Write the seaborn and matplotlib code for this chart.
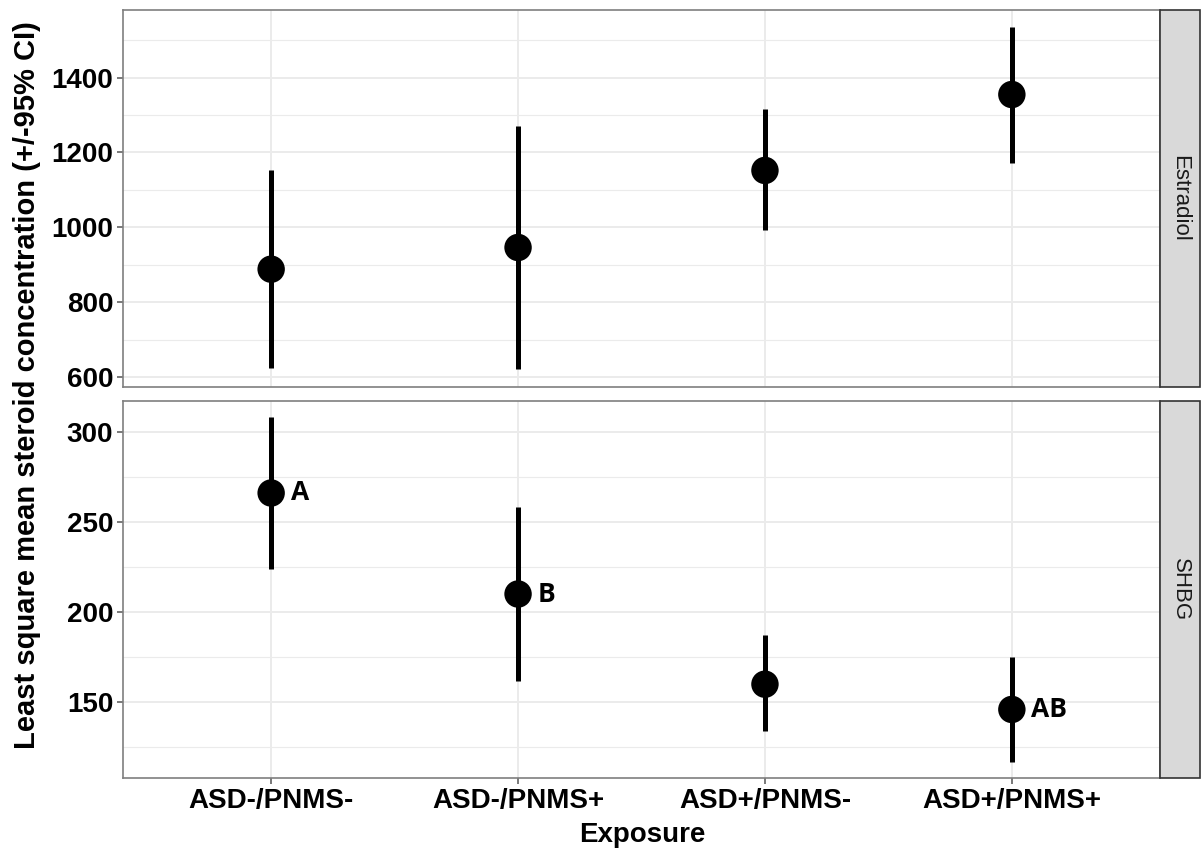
import numpy as np
import pandas as pd
import matplotlib
matplotlib.use("Agg")
import matplotlib.pyplot as plt
from matplotlib.patches import Rectangle
from matplotlib.ticker import MultipleLocator
import seaborn as sns

# ---- data ----
categories = ["ASD-/PNMS-", "ASD-/PNMS+", "ASD+/PNMS-", "ASD+/PNMS+"]
estradiol_mean = [888, 946, 1152, 1355]
estradiol_lo = [624, 621, 992, 1173]
estradiol_hi = [1152, 1272, 1315, 1536]
shbg_mean = [266, 210, 160, 146]
shbg_lo = [224, 162, 134, 117]
shbg_hi = [308, 258, 187, 175]
shbg_letters = ["A", "B", "", "AB"]
panels = ["Estradiol", "SHBG"]

rows = []
for p, m, lo, hi in [("Estradiol", estradiol_mean, estradiol_lo, estradiol_hi),
                     ("SHBG", shbg_mean, shbg_lo, shbg_hi)]:
    for i, c in enumerate(categories):
        rows.append(dict(panel=p, exposure=c, pos=i, mean=m[i], lo=lo[i], hi=hi[i]))
df = pd.DataFrame(rows)

sns.set_theme(style="white")
plt.rcParams['font.family'] = ['Liberation Sans', 'DejaVu Sans']
plt.rcParams['text.color'] = 'black'
plt.rcParams['axes.labelcolor'] = 'black'

fig = plt.figure(figsize=(12.04, 8.55), dpi=100)
W, H = 1204, 855
left, right = 123 / W, 1160 / W
ax1 = fig.add_axes([left, 1 - 387 / H, right - left, (387 - 10) / H])
ax2 = fig.add_axes([left, 1 - 778 / H, right - left, (778 - 401) / H])

settings = {
    "Estradiol": dict(ax=ax1, ylim=(573, 1581), major=200, minor=100),
    "SHBG": dict(ax=ax2, ylim=(108, 317), major=50, minor=25),
}

grid_col = "#EBEBEB"
for p in panels:
    s = settings[p]
    ax = s["ax"]
    sub = df[df.panel == p]
    ax.vlines(sub["pos"], sub["lo"], sub["hi"], color="black", lw=3.6, zorder=3)
    sns.scatterplot(data=sub, x="pos", y="mean", ax=ax, color="black", s=390,
                    edgecolor="none", zorder=4, legend=False)
    ax.set_xlim(-0.6, 3.6)
    ax.set_ylim(*s["ylim"])
    ax.yaxis.set_major_locator(MultipleLocator(s["major"]))
    ax.yaxis.set_minor_locator(MultipleLocator(s["minor"]))
    ax.set_xticks(range(len(categories)))
    ax.grid(which="major", color=grid_col, lw=1.4, zorder=0)
    ax.grid(which="minor", axis="y", color=grid_col, lw=0.8, zorder=0)
    ax.set_axisbelow(True)
    for sp in ax.spines.values():
        sp.set_color("#7F7F7F")
        sp.set_linewidth(1.2)
    ax.tick_params(axis="both", which="major", length=4, width=1.1, color="#555555",
                   labelsize=20, labelcolor="black", pad=3, bottom=True, left=True)
    ax.tick_params(axis="both", which="minor", length=0)
    for lab in ax.get_yticklabels():
        lab.set_fontweight("bold")
    ax.set_xlabel("")
    ax.set_ylabel("")
    # strip on the right
    sw = 40 / 1037
    rect = Rectangle((1.0, 0), sw, 1, transform=ax.transAxes, facecolor="#D9D9D9",
                     edgecolor="#333333", lw=1.2, clip_on=False, zorder=5)
    ax.add_patch(rect)
    ax.text(1.0 + sw / 2, 0.5, p, transform=ax.transAxes, rotation=-90,
            ha="center", va="center", fontsize=16, color="#1A1A1A", zorder=6)

ax1.set_xticklabels([])
ax1.tick_params(axis="x", length=0)
ax2.set_xticklabels(categories, fontsize=20, fontweight="bold")

for i, lt in enumerate(shbg_letters):
    if lt:
        ax2.annotate(lt, (i, shbg_mean[i]), xytext=(14, 0), textcoords="offset points",
                     ha="left", va="center", fontsize=19, fontweight="bold",
                     color="black", family=["Open Sans", "DejaVu Sans"], zorder=6)

fig.text(642 / W, 1 - 835 / H, "Exposure", ha="center", va="center",
         fontsize=20, fontweight="bold", color="black")
fig.text(27 / W, 1 - 385 / H, "Least square mean steroid concentration (+/-95% CI)",
         rotation=90, ha="center", va="center", fontsize=21, fontweight="bold",
         color="black")

fig.savefig("out.png", dpi=100)
